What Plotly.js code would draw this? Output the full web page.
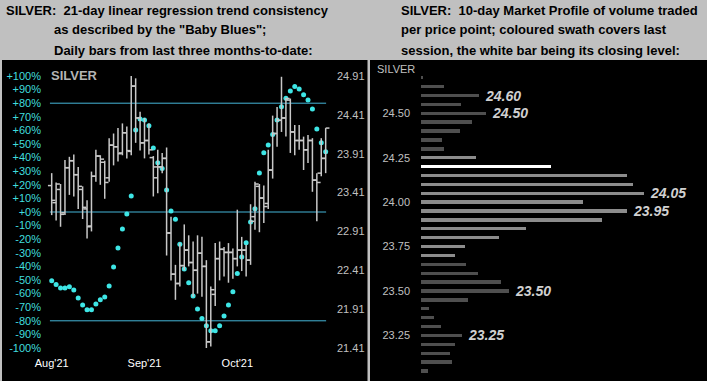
<!DOCTYPE html>
<html>
<head>
<meta charset="utf-8">
<script src="https://cdn.plot.ly/plotly-3.0.1.min.js"></script>
<style>html,body{margin:0;padding:0;background:#c0c0c0;}#chart{width:707px;height:381px;}</style>
</head>
<body>
<div id="chart"></div>
<script>
// ---------- DATA ----------
const sessions = [
 '2021-08-10','2021-08-11','2021-08-12','2021-08-13','2021-08-16','2021-08-17','2021-08-18','2021-08-19','2021-08-20','2021-08-23',
 '2021-08-24','2021-08-25','2021-08-26','2021-08-27','2021-08-30','2021-08-31','2021-09-01','2021-09-02','2021-09-03','2021-09-07',
 '2021-09-08','2021-09-09','2021-09-10','2021-09-13','2021-09-14','2021-09-15','2021-09-16','2021-09-17','2021-09-20','2021-09-21',
 '2021-09-22','2021-09-23','2021-09-24','2021-09-27','2021-09-28','2021-09-29','2021-09-30','2021-10-01','2021-10-04','2021-10-05',
 '2021-10-06','2021-10-07','2021-10-08','2021-10-11','2021-10-12','2021-10-13','2021-10-14','2021-10-15','2021-10-18','2021-10-19',
 '2021-10-20','2021-10-21','2021-10-22','2021-10-25','2021-10-26','2021-10-27','2021-10-28','2021-10-29','2021-11-01','2021-11-02',
 '2021-11-03','2021-11-04','2021-11-05'];
const openPx = [23.50,23.28,23.45,23.15,23.73,23.82,23.64,23.45,23.20,22.98, 23.62,23.88,23.80,23.60,24.02,24.00,23.92,24.18,23.94,24.78,
 24.37,24.05,24.08,23.86,23.60,23.74,23.85,22.89,22.36,22.24, 22.47,22.67,22.51,22.41,22.63,22.46,21.49,22.10,22.56,22.68,
 22.64,22.64,22.56,22.67,22.67,22.54,23.10,23.49,23.34,23.27, 23.70,24.17,24.34,24.37,24.60,24.19,24.08,24.08,23.96,24.08,
 23.57,23.66,23.85];
const highPx = [23.66,23.54,23.52,23.83,23.87,23.90,23.74,23.49,23.31,23.68, 23.96,23.89,23.82,24.11,24.17,24.24,24.30,24.26,24.92,24.88,
 24.45,24.37,24.30,23.88,23.96,23.92,23.99,23.10,22.48,22.76, 23.00,22.86,22.78,22.86,22.84,22.54,22.20,22.76,22.78,22.71,
 22.76,22.69,23.19,22.84,22.74,23.26,23.55,23.52,23.50,23.96, 24.40,24.51,24.90,24.63,24.62,24.28,24.28,24.13,24.15,24.11,
 23.66,24.11,24.24];
const lowPx = [23.12,23.05,22.97,23.12,23.38,23.36,23.20,23.07,22.82,22.91, 23.55,23.51,23.33,23.55,23.76,23.81,23.89,23.85,23.89,24.05,
 23.95,23.85,23.90,23.36,23.40,23.66,22.60,22.28,22.03,22.20, 22.41,22.46,22.07,22.11,22.07,21.41,21.43,21.95,22.28,22.33,
 22.25,22.30,22.46,22.40,22.33,22.48,22.93,22.90,23.02,23.20, 23.59,24.00,24.19,24.13,23.92,23.89,23.96,23.70,23.79,23.42,
 23.04,23.62,23.66];
const closePx = [23.31,23.52,23.13,23.73,23.82,23.64,23.49,23.22,22.97,23.62, 23.88,23.84,23.54,24.02,24.00,23.91,24.18,23.95,24.78,24.37,
 24.05,24.08,23.96,23.74,23.74,23.85,22.89,22.36,22.24,22.47, 22.67,22.51,22.41,22.63,22.46,21.49,22.16,22.56,22.68,22.64,
 22.64,22.56,22.67,22.67,22.54,23.04,23.52,23.34,23.23,23.70, 24.17,24.34,24.37,24.62,24.19,24.08,24.08,23.96,24.08,23.57,
 23.54,23.85,24.24];
const babyBlues = [-50.5,-53.4,-55.9,-55.9,-54.9,-57.4,-63.2,-68.4,-71.8,-71.8, -67.6,-64.5,-62.5,-54.4,-40.4,-26.5,-12.5,-1.5,11.8,60.3,
 68.4,67.6,63.5,47.0,36.3,31.9,16.2,0.7,-5.4,-23.8, -41.9,-52.0,-61.8,-71.3,-78.4,-83.6,-87.3,-87.3,-83.6,-76.5,
 -68.4,-58.6,-45.3,-33.1,-22.6,-7.4,2.4,28.7,43.6,49.3, 56.9,67.6,77.4,83.6,89.0,92.2,90.4,86.3,82.4,75.7,
 61.0,51.0,44.3];
const monthTickDates = ['2021-08-10','2021-09-09','2021-10-08'];
const monthTickLabels = ["Aug'21","Sep'21","Oct'21"];
const pctTicks = [100,90,80,70,60,50,40,30,20,10,0,-10,-20,-30,-40,-50,-60,-70,-80,-90,-100];
const priceTicks = [24.91,24.41,23.91,23.41,22.91,22.41,21.91,21.41];
const trendLevels = [80,0,-80];

const profileLevels = [24.70,24.65,24.60,24.55,24.50,24.45,24.40,24.35,24.30,24.25,24.20,24.15,24.10,24.05,24.00,23.95,
 23.90,23.85,23.80,23.75,23.70,23.65,23.60,23.55,23.50,23.45,23.40,23.35,23.30,23.25,23.20,23.15,23.10,23.05];
const profileVolume = [2.3,23,58,40,65,51,39,21,23,55,130,206,212,223,162,206,
 181,105,78,44,34,45,57,80,88,47,8,13,20,41,34,29,31,7];
const lastSessionLow = 23.70, lastSessionHigh = 24.25, lastClose = 24.20;
const profileTicks = [24.50,24.25,24.00,23.75,23.50,23.25];
const labelledLevels = [24.60,24.50,24.05,23.95,23.50,23.25];

// ---------- BUILD ----------
const W = 707, H = 381;
const idx = sessions.map((d,i)=>i);
const tk = 0.85;
const bx = [], by = [];
idx.forEach(i=>{
  bx.push(i,i,null, i-tk,i,null, i,i+tk,null);
  by.push(lowPx[i],highPx[i],null, openPx[i],openPx[i],null, closePx[i],closePx[i],null);
});
const fnt = 'Liberation Sans, Arial, sans-serif';

const traces = [
 {type:'scatter', mode:'lines', x:bx, y:by, xaxis:'x', yaxis:'y2',
  line:{color:'#c8c8c8', width:1.5}, hoverinfo:'skip', showlegend:false, connectgaps:false},
 {type:'scatter', mode:'markers', x:idx, y:babyBlues, xaxis:'x', yaxis:'y',
  marker:{color:'#3ee6e6', size:5}, showlegend:false, cliponaxis:false},
 {type:'bar', orientation:'h', x:profileVolume, y:profileLevels, xaxis:'x2', yaxis:'y3',
  width:0.019,
  marker:{color:profileLevels.map(v=> Math.abs(v-lastClose)<1e-6 ? '#ffffff' :
     (v>=lastSessionLow-1e-6 && v<=lastSessionHigh+1e-6 ? '#8c8c8c' : '#4f4f4f')), line:{width:0}},
  showlegend:false}
];

const px = v => v/W, py = v => 1 - v/H;
const shapes = [
 {type:'rect', xref:'paper', yref:'paper', x0:px(2), x1:px(367.5), y0:0, y1:py(60), fillcolor:'#000', line:{width:0}, layer:'below'},
 {type:'rect', xref:'paper', yref:'paper', x0:px(370), x1:1, y0:0, y1:py(60), fillcolor:'#000', line:{width:0}, layer:'below'}
];
trendLevels.forEach(l=>shapes.push({type:'line', xref:'x', yref:'y', x0:-0.4, x1:idx[idx.length-1]+0.1, y0:l, y1:l,
  line:{color:'#45b5d8', width:1}, layer:'below'}));

const hdr = (t,x,y)=>({text:'<b>'+t+'</b>', xref:'paper', yref:'paper', x:px(x), y:py(y), xanchor:'left', yanchor:'middle',
  showarrow:false, font:{family:fnt, size:13, color:'#000'}});
const annotations = [
 hdr('SILVER:&#160; 21-day linear regression trend consistency',4,10),
 hdr('as described by the "Baby Blues";',52,30),
 hdr('Daily bars from last three months-to-date:',52,50),
 hdr('SILVER:&#160; 10-day Market Profile of volume traded',399,10),
 hdr('per price point; coloured swath covers last',399,30),
 hdr('session, the white bar being its closing level:',399,50),
 {text:'<b>SILVER</b>', xref:'paper', yref:'paper', x:px(49), y:py(76), xanchor:'left', yanchor:'middle', showarrow:false,
  font:{family:fnt, size:13, color:'#b4b4b4'}},
 {text:'SILVER', xref:'paper', yref:'paper', x:px(375), y:py(69), xanchor:'left', yanchor:'middle', showarrow:false,
  font:{family:fnt, size:11, color:'#c0c0c0'}}
];
labelledLevels.forEach(l=>{
  const k = profileLevels.findIndex(v=>Math.abs(v-l)<1e-6);
  annotations.push({text:'<b><i>'+l.toFixed(2)+'</i></b>', xref:'x2', yref:'y3', x:profileVolume[k], y:l,
    xanchor:'left', yanchor:'middle', xshift:4, showarrow:false, font:{family:fnt, size:14, color:'#d0d0d0'}});
});

const layout = {
  width:W, height:H, margin:{l:0,r:0,t:0,b:0}, paper_bgcolor:'#c0c0c0', plot_bgcolor:'rgba(0,0,0,0)',
  showlegend:false, shapes:shapes, annotations:annotations,
  xaxis:{domain:[px(46),px(332)], range:[-1.29,63.43], anchor:'y', showgrid:false, zeroline:false, showline:false,
    tickmode:'array', tickvals:monthTickDates.map(d=>sessions.indexOf(d)), ticktext:monthTickLabels,
    ticks:'', ticklabelstandoff:7, tickfont:{family:fnt, size:11, color:'#ffffff'}},
  yaxis:{domain:[py(348),py(76)], range:[-100,100], anchor:'x', showgrid:false, zeroline:false, showline:false,
    tickmode:'array', tickvals:pctTicks, ticktext:pctTicks.map(v=> (v>=0?'+':'')+v+'%'),
    ticks:'', ticklabelstandoff:4, tickfont:{family:fnt, size:11, color:'#40dede'}},
  yaxis2:{overlaying:'y', side:'right', anchor:'x', range:[21.41,24.91], showgrid:false, zeroline:false, showline:false,
    tickmode:'array', tickvals:priceTicks, ticktext:priceTicks.map(v=>v.toFixed(2)),
    ticks:'', ticklabelstandoff:4, tickfont:{family:fnt, size:11, color:'#c0c0c0'}},
  xaxis2:{domain:[px(421),px(701)], range:[0,280], anchor:'y3', visible:false},
  yaxis3:{domain:[py(375.4),py(73.3)], range:[23.025,24.725], anchor:'x2', showgrid:false, zeroline:false, showline:false,
    tickmode:'array', tickvals:profileTicks, ticktext:profileTicks.map(v=>v.toFixed(2)),
    ticks:'', ticklabelstandoff:10, tickfont:{family:fnt, size:11, color:'#c0c0c0'}},
  bargap:0
};
Plotly.newPlot('chart', traces, layout, {staticPlot:true, displayModeBar:false});
</script>
</body>
</html>
